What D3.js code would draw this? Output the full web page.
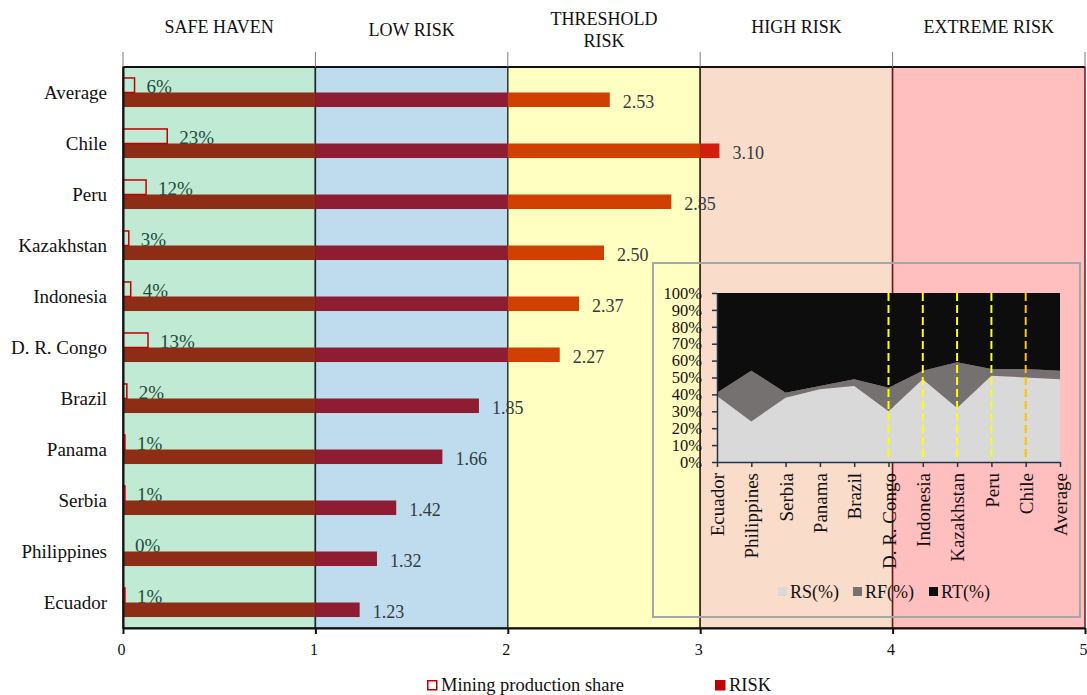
<!DOCTYPE html>
<html>
<head>
<meta charset="utf-8">
<script src="https://cdn.jsdelivr.net/npm/d3@7"></script>
<style>
  body { margin: 0; background: #fff; }
  svg { display: block; font-family: "Liberation Serif", "Times New Roman", serif; }
  svg text { font-family: "Liberation Serif", "Times New Roman", serif; }
</style>
</head>
<body>
<svg id="chart" width="1087" height="695"></svg>
<script>
// ---- data ----
const categories = ["Average", "Chile", "Peru", "Kazakhstan", "Indonesia", "D. R. Congo", "Brazil", "Panama", "Serbia", "Philippines", "Ecuador"];
const riskValues = [2.53, 3.10, 2.85, 2.50, 2.37, 2.27, 1.85, 1.66, 1.42, 1.32, 1.23];
const miningShare = [6, 23, 12, 3, 4, 13, 2, 1, 1, 0, 1]; // percent
const riskZones = [["SAFE HAVEN"], ["LOW RISK"], ["THRESHOLD", "RISK"], ["HIGH RISK"], ["EXTREME RISK"]];
const xTicks = [0, 1, 2, 3, 4, 5];

// risk composition (percent of total)
const profileCountries = ["Ecuador", "Philippines", "Serbia", "Panama", "Brazil", "D. R. Congo", "Indonesia", "Kazakhstan", "Peru", "Chile", "Average"];
const rsShare = [39, 24, 38, 43, 45, 30, 49, 32, 51, 50, 49];
const rfShare = [2, 30, 3, 2, 4, 14, 5, 27, 4, 5, 5];
const rtShare = [59, 46, 59, 55, 51, 56, 46, 41, 45, 45, 46];
const pctTicks = [0, 10, 20, 30, 40, 50, 60, 70, 80, 90, 100];
const markedCountries = ["D. R. Congo", "Indonesia", "Kazakhstan", "Peru", "Chile"];
const riskSeries = ["RS(%)", "RF(%)", "RT(%)"];
const legendItems = ["Mining production share", "RISK"];

// ---- styles ----
const zoneFill = ["#c1ead5", "#bfdcef", "#ffffc2", "#f9dcca", "#ffbfbf"];
const zoneStroke = ["#1a1a1a", "#14283a", "#3a3a18", "#3a2418", "#6e1616"];
const segmentFill = ["#8e2d16", "#8e1c32", "#d04000", "#cf1f0c", "#b00000"];
const seriesFill = ["#d9d9d9", "#767171", "#0d0d0d"];
const markColor = { "Chile": "#ffc000" };

const svg = d3.select("#chart");

// ---- main scales ----
const x = d3.scaleLinear().domain([0, 5]).range([123, 1085]);
const y = d3.scaleBand().domain(categories).range([67, 628]).paddingInner(0.43).paddingOuter(0.215);
const sub = d3.scaleBand().domain(["share", "risk"]).range([0, y.bandwidth()]);

// zone backgrounds
const zones = riskZones.map((lab, i) => ({ lab, lo: xTicks[i], hi: xTicks[i + 1], i }));
svg.append("g").selectAll("rect").data(zones).join("rect")
  .attr("x", d => x(d.lo)).attr("y", 67)
  .attr("width", d => x(d.hi) - x(d.lo)).attr("height", 628 - 67)
  .attr("fill", d => zoneFill[d.i])
  .attr("stroke", d => zoneStroke[d.i]).attr("stroke-width", 1.5);

// top frame and header separators
svg.append("line").attr("x1", x(0)).attr("x2", x(5)).attr("y1", 67).attr("y2", 67)
  .attr("stroke", "#111").attr("stroke-width", 2);
svg.append("g").selectAll("line").data(xTicks).join("line")
  .attr("x1", d => x(d)).attr("x2", d => x(d)).attr("y1", 52).attr("y2", 67)
  .attr("stroke", "#7f7f7f").attr("stroke-width", 1);

// zone headers
svg.append("g").selectAll("text").data(zones).join("text")
  .attr("text-anchor", "middle")
  .attr("font-size", 18).attr("fill", "#111")
  .each(function (d) {
    const t = d3.select(this);
    const cx = x((d.lo + d.hi) / 2);
    const startY = d.lab.length > 1 ? 25 : (d.i === 1 ? 36 : 33);
    d.lab.forEach((line, k) => {
      t.append("tspan").attr("x", cx).attr("y", startY + k * 22).text(line);
    });
  });

// rows
const rows = categories.map((c, i) => ({ c, risk: riskValues[i], share: miningShare[i] }));

// risk bars, coloured segment by segment per zone
const segs = [];
rows.forEach(r => {
  zones.forEach(z => {
    if (r.risk > z.lo) segs.push({ c: r.c, lo: z.lo, hi: Math.min(z.hi, r.risk), i: z.i });
  });
});
svg.append("g").selectAll("rect").data(segs).join("rect")
  .attr("x", d => x(d.lo)).attr("y", d => y(d.c) + sub("risk"))
  .attr("width", d => x(d.hi) - x(d.lo)).attr("height", sub.bandwidth())
  .attr("fill", d => segmentFill[d.i]);

// mining production share bars (outlined)
svg.append("g").selectAll("rect").data(rows).join("rect")
  .attr("x", x(0)).attr("y", d => y(d.c) + sub("share"))
  .attr("width", d => x(d.share / 100) - x(0)).attr("height", sub.bandwidth())
  .attr("fill", "none").attr("stroke", "#c00000").attr("stroke-width", 1.5);

// share labels
svg.append("g").selectAll("text").data(rows).join("text")
  .attr("x", d => x(d.share / 100) + 12)
  .attr("y", d => y(d.c) + sub("share") + sub.bandwidth())
  .attr("font-size", 19).attr("fill", "#1f4a3a")
  .text(d => d.share + "%");

// risk labels
svg.append("g").selectAll("text").data(rows).join("text")
  .attr("x", d => x(d.risk) + 13)
  .attr("y", d => y(d.c) + sub("risk") + sub.bandwidth() / 2 + 1)
  .attr("dy", "0.38em")
  .attr("font-size", 18).attr("fill", "#333a40")
  .text(d => d.risk.toFixed(2));

// category axis
const yAxis = svg.append("g").attr("transform", `translate(${x(0)},0)`)
  .call(d3.axisLeft(y).tickSize(0).tickPadding(16));
yAxis.select(".domain").attr("stroke", "#111").attr("stroke-width", 2);
yAxis.selectAll("text").attr("font-size", 19).attr("fill", "#111").attr("dy", "0.32em");

// value axis
const xAxis = svg.append("g").attr("transform", "translate(0,628)")
  .call(d3.axisBottom(x).tickValues(xTicks).tickFormat(d3.format("d")).tickSize(6).tickPadding(10).tickSizeOuter(0));
xAxis.select(".domain").attr("stroke", "#111").attr("stroke-width", 2);
xAxis.selectAll(".tick line").attr("stroke", "#111").attr("stroke-width", 2);
xAxis.selectAll("text").attr("font-size", 16).attr("fill", "#111").attr("dx", "-2");

// ---- inset: risk composition ----
svg.append("rect").attr("x", 653).attr("y", 263).attr("width", 427).attr("height", 354)
  .attr("fill", "none").attr("stroke", "#a6a6a6").attr("stroke-width", 2);

const ix = d3.scalePoint().domain(profileCountries).range([717, 1060]);
const iy = d3.scaleLinear().domain([0, 100]).range([462, 293]);

const table = profileCountries.map((c, i) => ({ c, "RS(%)": rsShare[i], "RF(%)": rfShare[i], "RT(%)": rtShare[i] }));
const stacked = d3.stack().keys(riskSeries)(table);
const area = d3.area().x(d => ix(d.data.c)).y0(d => iy(d[0])).y1(d => iy(d[1]));
svg.append("g").selectAll("path").data(stacked).join("path")
  .attr("d", area).attr("fill", (d, i) => seriesFill[i]);

// marked countries
svg.append("g").selectAll("line").data(markedCountries).join("line")
  .attr("x1", d => ix(d)).attr("x2", d => ix(d))
  .attr("y1", iy(100)).attr("y2", iy(0))
  .attr("stroke", d => markColor[d] || "#ffff00").attr("stroke-width", 2)
  .attr("stroke-dasharray", "8,4");

const iyAxis = svg.append("g").attr("transform", `translate(${ix.range()[0]},0)`)
  .call(d3.axisLeft(iy).tickValues(pctTicks).tickFormat(d => d + "%").tickSize(5).tickPadding(10).tickSizeOuter(0));
iyAxis.selectAll(".domain, .tick line").attr("stroke", "#1f3550").attr("stroke-width", 1.5);
iyAxis.selectAll("text").attr("font-size", 16.5).attr("fill", "#111");

const ixAxis = svg.append("g").attr("transform", `translate(0,${iy(0)})`)
  .call(d3.axisBottom(ix).tickSize(5).tickSizeOuter(0));
ixAxis.selectAll(".domain, .tick line").attr("stroke", "#1f3550").attr("stroke-width", 1.5);
ixAxis.selectAll("text")
  .attr("font-size", 19).attr("fill", "#111")
  .attr("transform", "rotate(-90)")
  .attr("text-anchor", "end")
  .attr("x", -11).attr("y", 0).attr("dy", "0.35em");

// inset legend
const ilg = svg.append("g").selectAll("g").data(riskSeries).join("g")
  .attr("transform", (d, i) => `translate(${[778, 853, 929][i]},587)`);
ilg.append("rect").attr("width", 9).attr("height", 9).attr("fill", (d, i) => seriesFill[i]);
ilg.append("text").attr("x", 12).attr("y", 4.5).attr("dy", "0.35em")
  .attr("font-size", 18).attr("fill", "#111").text(d => d);

// ---- main legend ----
const lg = svg.append("g").selectAll("g").data(legendItems).join("g")
  .attr("transform", (d, i) => `translate(${[427, 715][i]},680)`);
lg.append("rect").attr("x", 0.75).attr("y", 0.75).attr("width", 9).attr("height", 9)
  .attr("fill", (d, i) => i === 0 ? "#fff" : "#c00000")
  .attr("stroke", "#c00000").attr("stroke-width", 1.5);
lg.append("text").attr("x", 14).attr("y", 5).attr("dy", "0.35em")
  .attr("font-size", 18.5).attr("fill", "#111").text(d => d);
</script>
</body>
</html>
